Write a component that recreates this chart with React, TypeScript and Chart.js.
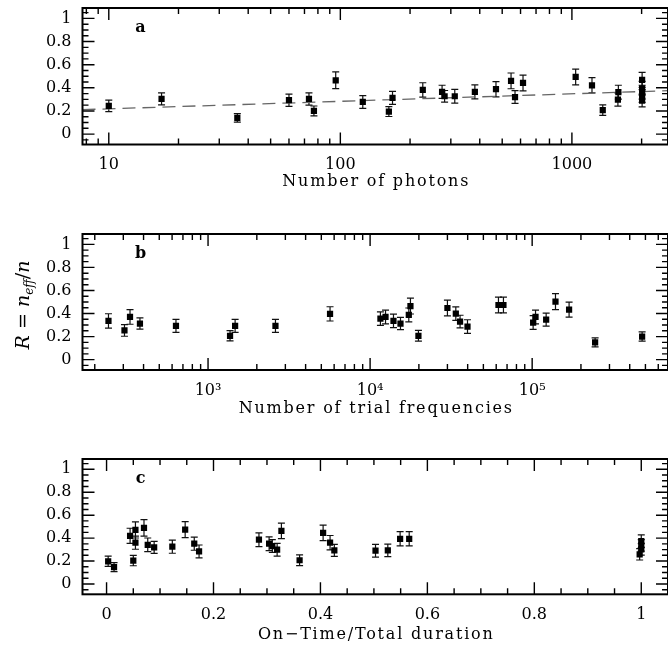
import React, { useEffect, useRef } from 'react';
import { Chart, registerables } from 'chart.js';

Chart.register(...registerables);

// ---------- Panel a: Number of photons ----------
const photonsX = [10, 16.9, 35.9, 60, 73.2, 76.9, 95.5, 125, 162, 168, 227, 275, 282, 312, 381, 470, 546, 568, 615, 1038, 1221, 1359, 1587, 1580, 2010, 2010, 2010, 2010, 2010];
const photonsR = [0.244, 0.304, 0.14, 0.293, 0.304, 0.2, 0.465, 0.278, 0.195, 0.313, 0.382, 0.365, 0.327, 0.327, 0.365, 0.388, 0.46, 0.32, 0.442, 0.494, 0.422, 0.207, 0.362, 0.298, 0.468, 0.396, 0.362, 0.33, 0.29];
const photonsErr = [0.05, 0.052, 0.037, 0.053, 0.053, 0.043, 0.072, 0.055, 0.043, 0.056, 0.062, 0.057, 0.05, 0.059, 0.06, 0.066, 0.068, 0.055, 0.068, 0.068, 0.066, 0.045, 0.06, 0.057, 0.065, 0.06, 0.06, 0.055, 0.055];
const fitX = [7.7, 2600];
const fitR = [0.211, 0.375];
const photonTicks = [10, 100, 1000];
const photonTickLabels = ['10', '100', '1000'];

// ---------- Panel b: Number of trial frequencies ----------
const trialsX = [243, 305, 330, 380, 634, 1367, 1469, 2606, 5660, 11580, 12450, 13940, 15400, 17330, 17740, 19870, 30000, 33800, 35900, 39900, 61950, 66500, 101400, 104900, 122000, 139300, 169000, 244600, 477000];
const trialsR = [0.336, 0.253, 0.37, 0.313, 0.293, 0.207, 0.293, 0.293, 0.397, 0.356, 0.37, 0.336, 0.313, 0.388, 0.465, 0.207, 0.448, 0.399, 0.33, 0.287, 0.474, 0.474, 0.322, 0.37, 0.347, 0.503, 0.434, 0.149, 0.2];
const trialsErr = [0.062, 0.05, 0.063, 0.049, 0.057, 0.045, 0.057, 0.057, 0.062, 0.059, 0.06, 0.059, 0.053, 0.06, 0.069, 0.047, 0.068, 0.059, 0.055, 0.059, 0.069, 0.069, 0.059, 0.059, 0.057, 0.069, 0.065, 0.039, 0.04];
const trialTicks = [1e3, 1e4, 1e5];
const trialTickLabels = ['10³', '10⁴', '10⁵'];

// ---------- Panel c: On-Time/Total duration ----------
const onTimeX = [0.003, 0.014, 0.044, 0.054, 0.054, 0.05, 0.07, 0.077, 0.089, 0.123, 0.147, 0.164, 0.173, 0.285, 0.304, 0.31, 0.319, 0.327, 0.361, 0.405, 0.418, 0.426, 0.503, 0.526, 0.549, 0.566, 0.997, 1.0, 1.0, 1.0];
const onTimeR = [0.198, 0.147, 0.42, 0.471, 0.36, 0.204, 0.49, 0.342, 0.319, 0.325, 0.474, 0.351, 0.284, 0.386, 0.351, 0.331, 0.299, 0.463, 0.207, 0.446, 0.36, 0.293, 0.29, 0.293, 0.394, 0.394, 0.259, 0.302, 0.336, 0.373];
const onTimeErr = [0.045, 0.04, 0.066, 0.07, 0.057, 0.045, 0.072, 0.059, 0.052, 0.057, 0.069, 0.057, 0.056, 0.06, 0.06, 0.055, 0.056, 0.068, 0.047, 0.068, 0.063, 0.053, 0.055, 0.055, 0.062, 0.062, 0.05, 0.05, 0.05, 0.055];
const onTimeTicks = [0, 0.2, 0.4, 0.6, 0.8, 1];
const onTimeTickLabels = ['0', '0.2', '0.4', '0.6', '0.8', '1'];

// ---------- shared y axis ----------
const rTicks = [0, 0.2, 0.4, 0.6, 0.8, 1];
const rTickLabels = ['0', '0.2', '0.4', '0.6', '0.8', '1'];

const FONT = 'DejaVu Serif';

function tickValues(scale: any, type: string) {
  const out: { v: number; major: boolean }[] = [];
  if (type === 'log') {
    const k0 = Math.floor(Math.log10(scale.min));
    const k1 = Math.ceil(Math.log10(scale.max));
    for (let k = k0; k <= k1; k++) {
      for (let d = 1; d <= 9; d++) {
        const v = d * Math.pow(10, k);
        if (v >= scale.min && v <= scale.max) out.push({ v, major: d === 1 });
      }
    }
  } else {
    const step = 0.05;
    const start = Math.ceil(scale.min / step - 1e-9);
    for (let i = start; i * step <= scale.max + 1e-9; i++) {
      const v = i * step;
      out.push({ v, major: Math.abs(v / 0.2 - Math.round(v / 0.2)) < 1e-6 });
    }
  }
  return out;
}

const framePlugin = {
  id: 'frame',
  beforeDatasetsDraw(chart: any) {
    const ctx = chart.ctx;
    const xs = chart.scales.x;
    const ys = chart.scales.y;
    ctx.save();
    ctx.strokeStyle = '#111';
    ctx.lineWidth = 1.2;
    chart.data.datasets.forEach((ds: any) => {
      if (!ds.errors) return;
      ds.data.forEach((p: any, j: number) => {
        const e = ds.errors[j];
        const px = xs.getPixelForValue(p.x);
        const y1 = ys.getPixelForValue(p.y + e);
        const y2 = ys.getPixelForValue(p.y - e);
        ctx.beginPath();
        ctx.moveTo(px, y1);
        ctx.lineTo(px, y2);
        ctx.moveTo(px - 3.5, y1);
        ctx.lineTo(px + 3.5, y1);
        ctx.moveTo(px - 3.5, y2);
        ctx.lineTo(px + 3.5, y2);
        ctx.stroke();
      });
    });
    ctx.restore();
  },
  afterDraw(chart: any, _args: any, opts: any) {
    const ctx = chart.ctx;
    const { left, right, top, bottom } = chart.chartArea;
    const xs = chart.scales.x;
    const ys = chart.scales.y;
    ctx.save();
    ctx.strokeStyle = '#000';
    // inward ticks on all four sides
    ctx.lineWidth = 1.4;
    tickValues(xs, opts.xType).forEach((t) => {
      const px = xs.getPixelForValue(t.v);
      const L = t.major ? 12 : 6;
      ctx.beginPath();
      ctx.moveTo(px, bottom);
      ctx.lineTo(px, bottom - L);
      ctx.moveTo(px, top);
      ctx.lineTo(px, top + L);
      ctx.stroke();
    });
    tickValues(ys, 'linear').forEach((t) => {
      const py = ys.getPixelForValue(t.v);
      const L = t.major ? 12 : 6;
      ctx.beginPath();
      ctx.moveTo(left, py);
      ctx.lineTo(left + L, py);
      ctx.moveTo(right, py);
      ctx.lineTo(right - L, py);
      ctx.stroke();
    });
    // frame
    ctx.lineWidth = 2;
    ctx.strokeRect(left, top, right - left, bottom - top);
    // panel letter
    ctx.fillStyle = '#000';
    ctx.font = `bold 16px ${FONT}`;
    ctx.textAlign = 'center';
    ctx.textBaseline = 'middle';
    ctx.fillText(opts.letter, left + 58, top + 20);
    // x axis title
    ctx.font = `16px ${FONT}`;
    ctx.letterSpacing = '1.8px';
    ctx.fillText(opts.xTitle, (left + right) / 2 + 1, opts.titleY);
    ctx.letterSpacing = '0px';
    // y title
    if (opts.yTitle) {
      ctx.translate(23, 80);
      ctx.rotate(-Math.PI / 2);
      const parts = [
        { t: 'R', f: `italic 19px ${FONT}`, dy: 0 },
        { t: ' = ', f: `19px ${FONT}`, dy: 0 },
        { t: 'n', f: `italic 19px ${FONT}`, dy: 0 },
        { t: 'eff', f: `italic 12px ${FONT}`, dy: 4 },
        { t: '/', f: `19px ${FONT}`, dy: 0 },
        { t: 'n', f: `italic 19px ${FONT}`, dy: 0 },
      ];
      let w = 0;
      parts.forEach((p) => {
        ctx.font = p.f;
        w += ctx.measureText(p.t).width;
      });
      let x = -w / 2;
      ctx.textAlign = 'left';
      ctx.textBaseline = 'alphabetic';
      parts.forEach((p) => {
        ctx.font = p.f;
        ctx.fillText(p.t, x, 6 + p.dy);
        x += ctx.measureText(p.t).width;
      });
    }
    ctx.restore();
  },
};

type PanelCfg = {
  xs: number[];
  ys: number[];
  errs: number[];
  xType: 'log' | 'linear';
  xMin: number;
  xMax: number;
  xTicks: number[];
  xLabels: string[];
  xTitle: string;
  letter: string;
  padTop: number;
  xHeight: number;
  xTickPad: number;
  titleY: number;
  yTitle: boolean;
  fit?: { x: number[]; y: number[] };
};

function makeConfig(p: PanelCfg): any {
  const datasets: any[] = [
    {
      type: 'scatter',
      data: p.xs.map((x, i) => ({ x, y: p.ys[i] })),
      errors: p.errs,
      pointStyle: 'rect',
      pointRadius: 4.4,
      pointBorderWidth: 0,
      backgroundColor: '#000',
      borderColor: '#000',
      order: 0,
    },
  ];
  if (p.fit) {
    datasets.push({
      type: 'line',
      data: p.fit.x.map((x, i) => ({ x, y: p.fit!.y[i] })),
      borderColor: '#666',
      borderWidth: 1.3,
      borderDash: [13, 7],
      pointRadius: 0,
      showLine: true,
      fill: false,
      order: 1,
    });
  }
  return {
    type: 'scatter',
    data: { datasets },
    plugins: [framePlugin],
    options: {
      animation: false,
      responsive: false,
      events: [],
      layout: { autoPadding: false, padding: { top: p.padTop, left: 0, right: 0, bottom: 0 } },
      plugins: {
        legend: { display: false },
        tooltip: { enabled: false },
        frame: { xType: p.xType, letter: p.letter, yTitle: p.yTitle, xTitle: p.xTitle, titleY: p.titleY },
      },
      scales: {
        x: {
          type: p.xType === 'log' ? 'logarithmic' : 'linear',
          min: p.xMin,
          max: p.xMax,
          grid: { display: false, drawTicks: false },
          border: { display: false },
          afterBuildTicks: (s: any) => {
            s.ticks = p.xTicks.map((v) => ({ value: v }));
          },
          afterFit: (s: any) => {
            s.height = p.xHeight;
            s.paddingLeft = 0;
            s.paddingRight = 0;
            s.paddingTop = 0;
            s.paddingBottom = 0;
          },
          ticks: {
            autoSkip: false,
            maxRotation: 0,
            padding: p.xTickPad,
            color: '#000',
            font: { family: FONT, size: 16 },
            callback: (_v: any, i: number) => p.xLabels[i],
          },
          title: { display: false },
        },
        y: {
          type: 'linear',
          min: -0.09,
          max: 1.09,
          grid: { display: false, drawTicks: false },
          border: { display: false },
          afterBuildTicks: (s: any) => {
            s.ticks = rTicks.map((v) => ({ value: v }));
          },
          afterFit: (s: any) => {
            s.width = 82.5;
            s.paddingLeft = 0;
            s.paddingRight = 0;
            s.paddingTop = 0;
            s.paddingBottom = 0;
          },
          ticks: {
            autoSkip: false,
            padding: 11,
            color: '#000',
            font: { family: FONT, size: 16 },
            callback: (_v: any, i: number) => rTickLabels[i],
          },
        },
      },
    },
  };
}

const panelA: PanelCfg = {
  xs: photonsX, ys: photonsR, errs: photonsErr, xType: 'log', xMin: 7.7, xMax: 2600,
  xTicks: photonTicks, xLabels: photonTickLabels, xTitle: 'Number of photons', letter: 'a',
  padTop: 8, xHeight: 80.5, xTickPad: 11, titleY: 182, yTitle: false,
  fit: { x: fitX, y: fitR },
};
const panelB: PanelCfg = {
  xs: trialsX, ys: trialsR, errs: trialsErr, xType: 'log', xMin: 168, xMax: 689000,
  xTicks: trialTicks, xLabels: trialTickLabels, xTitle: 'Number of trial frequencies', letter: 'b',
  padTop: 9, xHeight: 80, xTickPad: 11, titleY: 184, yTitle: true,
};
const panelC: PanelCfg = {
  xs: onTimeX, ys: onTimeR, errs: onTimeErr, xType: 'linear', xMin: -0.045, xMax: 1.05,
  xTicks: onTimeTicks, xLabels: onTimeTickLabels, xTitle: 'On\u2212Time/Total duration', letter: 'c',
  padTop: 9, xHeight: 55.7, xTickPad: 11, titleY: 185, yTitle: false,
};

export default function App() {
  const refA = useRef<HTMLCanvasElement>(null);
  const refB = useRef<HTMLCanvasElement>(null);
  const refC = useRef<HTMLCanvasElement>(null);

  useEffect(() => {
    const charts = [
      new Chart(refA.current as HTMLCanvasElement, makeConfig(panelA)),
      new Chart(refB.current as HTMLCanvasElement, makeConfig(panelB)),
      new Chart(refC.current as HTMLCanvasElement, makeConfig(panelC)),
    ];
    return () => charts.forEach((c) => c.destroy());
  }, []);

  return (
    <div style={{ position: 'absolute', left: 0, top: 0, width: 668, height: 650, background: '#fff', overflow: 'hidden' }}>
      <canvas ref={refA} width={668} height={225} style={{ position: 'absolute', left: 0, top: 0 }} />
      <canvas ref={refB} width={668} height={225} style={{ position: 'absolute', left: 0, top: 225 }} />
      <canvas ref={refC} width={668} height={200} style={{ position: 'absolute', left: 0, top: 450 }} />
    </div>
  );
}
